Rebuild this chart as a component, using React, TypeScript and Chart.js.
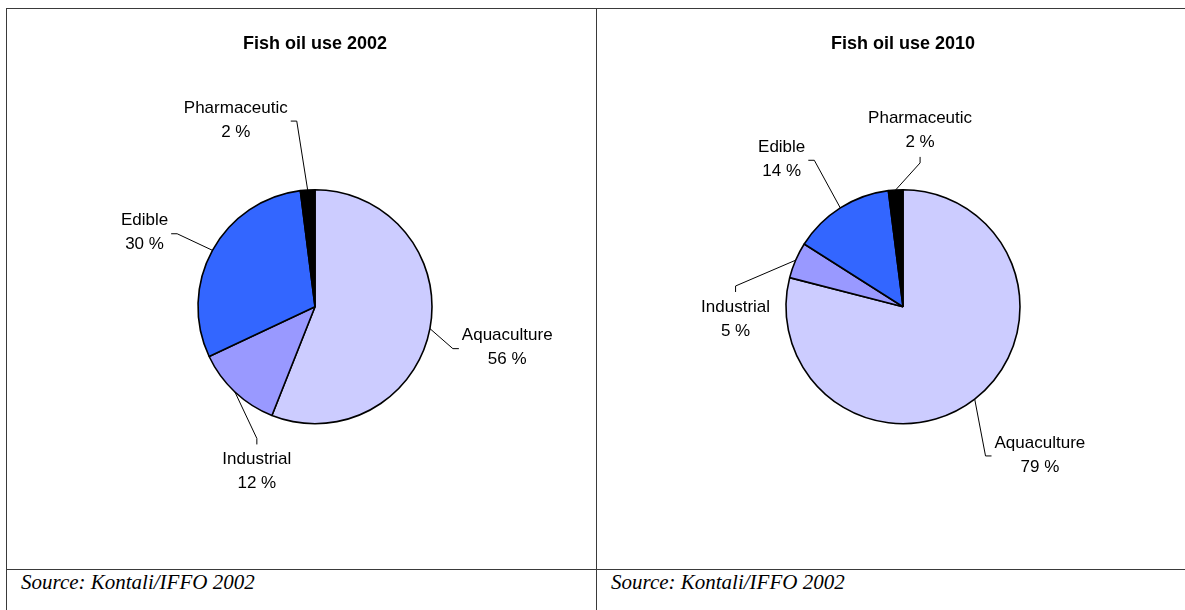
import React, { useEffect, useRef } from 'react';
import { Chart, registerables } from 'chart.js';

Chart.register(...registerables);

// ---- data ----
const categories = ['Aquaculture', 'Industrial', 'Edible', 'Pharmaceutic'];
const share2002 = [56, 12, 30, 2];
const share2010 = [79, 5, 14, 2];
const titles = ['Fish oil use 2002', 'Fish oil use 2010'];
const sourceNote = 'Source: Kontali/IFFO 2002';

// ---- styles / layout (not data) ----
const sliceColors = ['#CCCCFF', '#9999FF', '#3366FF', '#000000'];
const SANS = "Arial, 'Liberation Sans', sans-serif";
const SERIF = "'Times New Roman', 'Liberation Serif', serif";
const LINE_H = 24;
const GAP = 3;
const TICK = 6;

type Side = 'left' | 'right' | 'top' | 'bottom';
interface Place { dx: number; dy: number; side: Side }

// label centre relative to the pie centre, in units of the pie radius
const place2002: Place[] = [
  { dx: 1.643, dy: 0.35, side: 'left' },
  { dx: -0.497, dy: 1.408, side: 'top' },
  { dx: -1.457, dy: -0.632, side: 'right' },
  { dx: -0.677, dy: -1.595, side: 'right' },
];
const place2010: Place[] = [
  { dx: 1.17, dy: 1.267, side: 'left' },
  { dx: -1.431, dy: 0.105, side: 'top' },
  { dx: -1.037, dy: -1.26, side: 'right' },
  { dx: 0.146, dy: -1.511, side: 'bottom' },
];

const leaderLabels = {
  id: 'leaderLabels',
  afterDatasetsDraw(chart: any, _args: any, opts: any) {
    const meta = chart.getDatasetMeta(0);
    const ctx = chart.ctx as CanvasRenderingContext2D;
    const labels = chart.data.labels as string[];
    const values = chart.data.datasets[0].data as number[];
    const places: Place[] = opts.places || [];
    ctx.save();
    ctx.font = `17px ${SANS}`;
    ctx.fillStyle = '#000';
    ctx.strokeStyle = '#000';
    ctx.lineWidth = 1;
    ctx.textAlign = 'center';
    ctx.textBaseline = 'middle';
    meta.data.forEach((arc: any, i: number) => {
      const p = places[i];
      if (!p) return;
      const { x, y, startAngle, endAngle, outerRadius } = arc.getProps(
        ['x', 'y', 'startAngle', 'endAngle', 'outerRadius'],
        true
      );
      const mid = (startAngle + endAngle) / 2;
      const ax = x + Math.cos(mid) * outerRadius;
      const ay = y + Math.sin(mid) * outerRadius;
      const lx = x + p.dx * outerRadius;
      const ly = y + p.dy * outerRadius;
      const lines = [String(labels[i]), `${values[i]} %`];
      const w = Math.max(...lines.map((t) => ctx.measureText(t).width));
      const h = lines.length * LINE_H;
      let ex = lx, ey = ly, bx = lx, by = ly;
      if (p.side === 'left') { ex = lx - w / 2 - GAP; ey = ly + 1; bx = ex - TICK; by = ey; }
      else if (p.side === 'right') { ex = lx + w / 2 + GAP; ey = ly + 1; bx = ex + TICK; by = ey; }
      else if (p.side === 'top') { ex = lx; ey = ly - h / 2 - GAP; bx = ex; by = ey - TICK; }
      else { ex = lx; ey = ly + h / 2 + GAP; bx = ex; by = ey + TICK; }
      ctx.beginPath();
      ctx.moveTo(ax, ay);
      ctx.lineTo(bx, by);
      ctx.lineTo(ex, ey);
      ctx.stroke();
      lines.forEach((t, k) => {
        ctx.fillText(t, lx, ly - h / 2 + LINE_H * (k + 0.5));
      });
    });
    ctx.restore();
  },
};

function PieChart(props: {
  title: string;
  values: number[];
  places: Place[];
  left: number;
  width: number;
  padLeft: number;
  padRight: number;
}) {
  const ref = useRef<HTMLCanvasElement | null>(null);
  const height = 569;
  useEffect(() => {
    if (!ref.current) return;
    const chart = new Chart(ref.current, {
      type: 'pie',
      data: {
        labels: categories,
        datasets: [
          {
            data: props.values,
            backgroundColor: sliceColors,
            borderColor: '#000000',
            borderWidth: 1.6,
            radius: 117,
          } as any,
        ],
      },
      options: {
        responsive: false,
        animation: false,
        devicePixelRatio: 1,
        layout: {
          padding: { left: props.padLeft, right: props.padRight, top: 0, bottom: 145.6 },
        },
        plugins: {
          legend: { display: false },
          tooltip: { enabled: false },
          title: {
            display: true,
            text: props.title,
            color: '#000000',
            font: { family: SANS, size: 18, weight: 'bold' },
            padding: { top: 33, bottom: 135.4 },
          },
          leaderLabels: { places: props.places },
        } as any,
      },
      plugins: [leaderLabels],
    });
    return () => chart.destroy();
  }, []);
  return (
    <canvas
      ref={ref}
      width={props.width}
      height={height}
      style={{ position: 'absolute', left: props.left, top: 0, width: props.width, height }}
    />
  );
}

const lineColor = '#3a3a3a';

export default function App() {
  return (
    <div
      style={{
        position: 'absolute',
        left: 0,
        top: 0,
        width: 1185,
        height: 610,
        background: '#ffffff',
        overflow: 'hidden',
      }}
    >
      <PieChart title={titles[0]} values={share2002} places={place2002} left={0} width={597} padLeft={198} padRight={165} />
      <PieChart title={titles[1]} values={share2010} places={place2010} left={597} width={588} padLeft={189} padRight={165} />
      <div style={{ position: 'absolute', left: 6, top: 8, width: 1179, height: 1, background: lineColor }} />
      <div style={{ position: 'absolute', left: 6, top: 8, width: 1, height: 602, background: lineColor }} />
      <div style={{ position: 'absolute', left: 596, top: 8, width: 1, height: 602, background: lineColor }} />
      <div style={{ position: 'absolute', left: 6, top: 569, width: 1179, height: 1, background: lineColor }} />
      <div
        style={{
          position: 'absolute',
          left: 21,
          top: 572,
          font: `italic 21px ${SERIF}`,
          lineHeight: '21px',
          color: '#000',
          whiteSpace: 'nowrap',
        }}
      >
        {sourceNote}
      </div>
      <div
        style={{
          position: 'absolute',
          left: 611,
          top: 572,
          font: `italic 21px ${SERIF}`,
          lineHeight: '21px',
          color: '#000',
          whiteSpace: 'nowrap',
        }}
      >
        {sourceNote}
      </div>
    </div>
  );
}
